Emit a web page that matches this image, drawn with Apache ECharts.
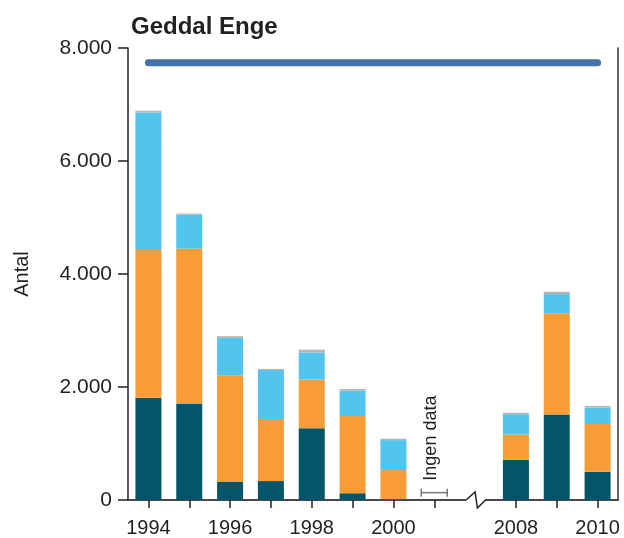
<!DOCTYPE html>
<html>
<head>
<meta charset="utf-8">
<script src="https://cdn.jsdelivr.net/npm/echarts@6/dist/echarts.min.js"></script>
<style>
html,body{margin:0;padding:0;background:#fff;}
#chart{width:624px;height:538px;}
</style>
</head>
<body>
<div id="chart"></div>
<script>
const title = 'Geddal Enge';
const yName = 'Antal';
const categories = ['1994','1995','1996','1997','1998','1999','2000','2001','','2008','2009','2010'];
const labelYears = ['1994','1996','1998','2000','2008','2010'];
const darkVals   = [1810, 1700, 320, 335, 1270, 120, 15, null, null, 710, 1515, 500];
const orangeVals = [2615, 2750, 1890, 1100, 860, 1365, 515, null, null, 450, 1790, 845];
const blueVals   = [2435, 600, 660, 865, 480, 450, 530, null, null, 360, 340, 290];
const grayVals   = [30, 20, 30, 20, 50, 30, 25, null, null, 25, 40, 30];
const targetLine = [7740, null, null, null, null, null, null, null, null, null, null, 7740];
const noDataLabel = 'Ingen data';
const noDataPoint = [['2001', 130]];
const gapIndex = 8;
const yTicks = [0, 2000, 4000, 6000, 8000];

const FONT = '"Liberation Sans", Arial, Helvetica, sans-serif';
const chart = echarts.init(document.getElementById('chart'), null, {renderer: 'canvas'});

function fmt(v){ return String(v).replace(/\B(?=(\d{3})+(?!\d))/g, '.'); }

const barCommon = {type: 'bar', stack: 'total', barWidth: 26, emphasis: {disabled: true}};

const option = {
  animation: false,
  backgroundColor: '#fff',
  title: {
    text: title, left: 126, top: 10,
    textStyle: {fontFamily: FONT, fontSize: 24, fontWeight: 'bold', color: '#231f20'}
  },
  grid: {left: 128, right: 6, top: 48, bottom: 36, containLabel: false},
  xAxis: [{
    type: 'category', data: categories, position: 'bottom',
    axisLine: {show: true, lineStyle: {color: '#231f20', width: 1.5}},
    axisTick: {show: true, length: 8, alignWithLabel: true, inside: false,
      interval: (i) => i !== gapIndex, lineStyle: {color: '#231f20', width: 1.5}},
    axisLabel: {interval: (i, v) => labelYears.includes(v), margin: 18,
      fontFamily: FONT, fontSize: 20, color: '#231f20'},
    splitLine: {show: false}
  }, {
    type: 'category', data: categories, position: 'top',
    axisLine: {show: true, lineStyle: {color: '#444', width: 1.5}},
    axisTick: {show: false}, axisLabel: {show: false}
  }],
  yAxis: [{
    type: 'value', min: 0, max: 8000, interval: 2000,
    name: yName, nameLocation: 'middle', nameGap: 96, nameRotate: 90,
    nameTextStyle: {fontFamily: FONT, fontSize: 20, color: '#231f20'},
    axisLine: {show: true, lineStyle: {color: '#231f20', width: 1.5}},
    axisTick: {show: true, length: 10, lineStyle: {color: '#231f20', width: 1.5}},
    axisLabel: {margin: 16, fontFamily: FONT, fontSize: 21, color: '#231f20',
      formatter: (v) => yTicks.includes(v) ? fmt(v) : ''},
    splitLine: {show: false}
  }, {
    type: 'value', min: 0, max: 8000, interval: 2000, position: 'right',
    axisLine: {show: true, lineStyle: {color: '#333', width: 1.5}},
    axisTick: {show: false}, axisLabel: {show: false}, splitLine: {show: false}
  }],
  series: [
    Object.assign({}, barCommon, {name: 'a', data: darkVals, itemStyle: {color: '#03566a'}}),
    Object.assign({}, barCommon, {name: 'b', data: orangeVals, itemStyle: {color: '#f89c37'}}),
    Object.assign({}, barCommon, {name: 'c', data: blueVals, itemStyle: {color: '#52c5ef'}}),
    Object.assign({}, barCommon, {name: 'd', data: grayVals, itemStyle: {color: '#b5b5b5'}}),
    {
      type: 'line', data: targetLine, connectNulls: true, symbol: 'none', z: 5,
      lineStyle: {color: '#4373aa', width: 7, cap: 'round'}, emphasis: {disabled: true}
    },
    {
      type: 'custom', data: noDataPoint, z: 6,
      renderItem: function(params, api){
        const p = api.coord([api.value(0), api.value(1)]);
        const w = 26, h = 8;
        const c = '#7a7a7a';
        return {
          type: 'group',
          children: [
            {type: 'line', shape: {x1: p[0]-w/2, y1: p[1], x2: p[0]+w/2, y2: p[1]}, style: {stroke: c, lineWidth: 1.5}},
            {type: 'line', shape: {x1: p[0]-w/2, y1: p[1]-h/2, x2: p[0]-w/2, y2: p[1]+h/2}, style: {stroke: c, lineWidth: 1.5}},
            {type: 'line', shape: {x1: p[0]+w/2, y1: p[1]-h/2, x2: p[0]+w/2, y2: p[1]+h/2}, style: {stroke: c, lineWidth: 1.5}},
            {type: 'text', x: p[0]-3, y: p[1]-12, rotation: Math.PI/2,
              style: {text: noDataLabel, fill: '#231f20', font: '18px ' + FONT, align: 'left', verticalAlign: 'middle'}}
          ]
        };
      }
    }
  ]
};
chart.setOption(option);

// axis break on the bottom axis at the gap category
const gx = chart.convertToPixel({xAxisIndex: 0}, gapIndex);
const gy = chart.convertToPixel({yAxisIndex: 0}, 0);
chart.setOption({
  graphic: [
    {type: 'rect', z: 100, shape: {x: gx - 9, y: gy - 2, width: 19, height: 4}, style: {fill: '#fff'}},
    {type: 'polyline', z: 101, shape: {points: [[gx-9, gy], [gx, gy-8], [gx+2.3, gy+8], [gx+10.5, gy]]},
      style: {stroke: '#231f20', lineWidth: 1.5, fill: null}}
  ]
});
</script>
</body>
</html>
